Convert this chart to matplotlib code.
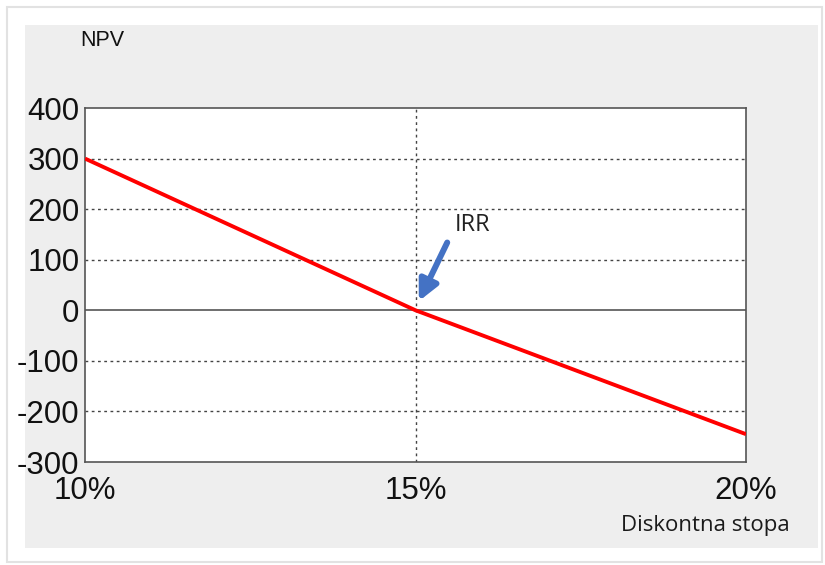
import matplotlib.pyplot as plt
from matplotlib.patches import Rectangle

# discount rate (%) vs NPV
rates = [10, 15, 20]
npv = [300, 0, -245]

y_ticks = [400, 300, 200, 100, 0, -100, -200, -300]
x_ticks = [10, 15, 20]
x_labels = ['10%', '15%', '20%']

irr_rate = 15

fig = plt.figure(figsize=(8.25, 5.65), dpi=100)
fig.patch.set_facecolor('white')

# faint shadow frame + gray panel behind the chart
fig.patches.append(Rectangle((7 / 825, 3 / 565), 815 / 825, 555 / 565,
                             transform=fig.transFigure, facecolor='white',
                             edgecolor='#e2e2e2', lw=1.5, zorder=-6))
fig.patches.append(Rectangle((25 / 825, 17 / 565), 793 / 825, 523 / 565,
                             transform=fig.transFigure, facecolor='#eeeeee',
                             edgecolor='none', zorder=-5))

ax = fig.add_axes([85 / 825, 103 / 565, 661 / 825, 354 / 565])
ax.set_zorder(1)
ax.set_facecolor('white')

ax.set_xlim(10, 20)
ax.set_ylim(-300, 400)

# dotted grid
for y in [300, 200, 100, -100, -200]:
    ax.axhline(y, color='#444444', lw=1, ls=(0, (2, 2.5)), zorder=1)
ax.axvline(irr_rate, color='#444444', lw=1, ls=(0, (2, 2.5)), zorder=1)
ax.axhline(0, color='#555555', lw=1.2, zorder=1)

ax.plot(rates, npv, color='#ff0000', lw=2.8, zorder=3, solid_capstyle='butt')

ax.set_yticks(y_ticks)
ax.set_yticklabels([str(v) for v in y_ticks])
ax.set_xticks(x_ticks)
ax.set_xticklabels(x_labels)
ax.tick_params(length=0, labelsize=22.5, colors='#111111')
ax.tick_params(axis='y', pad=4)
ax.tick_params(axis='x', pad=10)
for lab in ax.get_yticklabels() + ax.get_xticklabels():
    lab.set_family('Liberation Sans')

for s in ax.spines.values():
    s.set_color('#555555')
    s.set_linewidth(1.2)

# IRR arrow
ax.annotate('', xy=(15.05, 18), xytext=(15.48, 134),
            arrowprops=dict(arrowstyle='-|>,head_length=0.55,head_width=0.27',
                            mutation_scale=22, color='#4472c4', lw=4.3,
                            shrinkA=0, shrinkB=0),
            zorder=4)
ax.text(15.6, 168, 'IRR', fontsize=17, family='Open Sans', color='#222222',
        ha='left', va='center')

fig.text(80 / 825, 1 - 41 / 565, 'NPV', fontsize=15.5, family='Liberation Sans',
         color='#111111', ha='left', va='center')
fig.text(705 / 825, 1 - 525 / 565, 'Diskontna stopa', fontsize=16,
         family='Open Sans', color='#1a1a1a', ha='center', va='center')

fig.savefig('out.png', dpi=100, facecolor=fig.get_facecolor())
